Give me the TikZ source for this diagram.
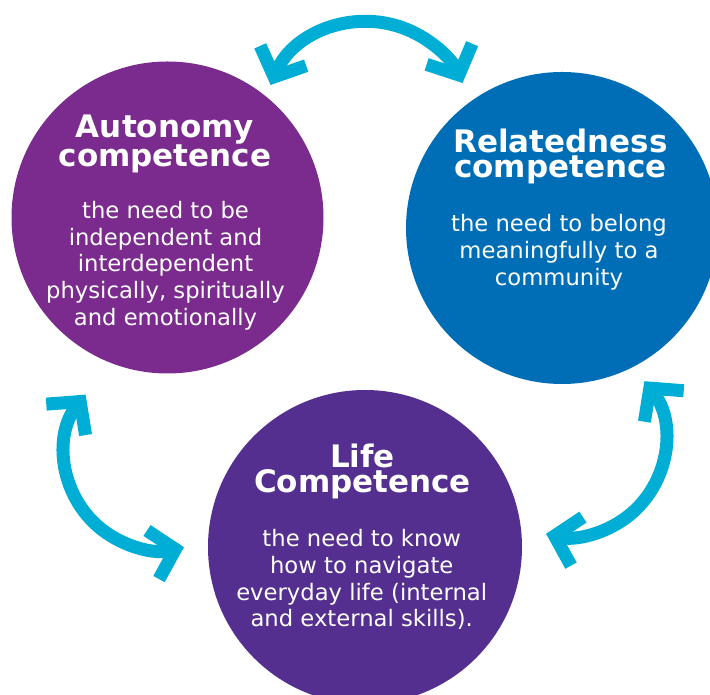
\documentclass[tikz,border=0pt]{standalone}
\usepackage{fontspec}
\setmainfont{DejaVu Sans}
\usetikzlibrary{arrows.meta}
\definecolor{autcol}{HTML}{7B2A8D}
\definecolor{relcol}{HTML}{006EB6}
\definecolor{lifecol}{HTML}{542F8F}
\definecolor{cyanc}{HTML}{00AED5}
\begin{document}
\begin{tikzpicture}[x=1pt,y=1pt,
  bubble/.style={circle, inner sep=0pt, minimum size=#1},
  ttl/.style={text=white, align=center, inner sep=0pt, anchor=north, font=\bfseries\fontsize{31}{25}\selectfont},
  bdy/.style={text=white, align=center, inner sep=0pt, anchor=north, font=\fontsize{22.7}{26.7}\selectfont},
  cyc/.style={draw=cyanc, line width=13pt, {Straight Barb[length=23pt,width=50pt]}-{Straight Barb[length=23pt,width=50pt]}}
]
\useasboundingbox (0,0) rectangle (710,695);
\clip (0,0) rectangle (710,695);
% circles
\node[bubble=312pt, fill=autcol] (aut) at (167.5,477.5) {};
\node[bubble=312pt, fill=relcol] (rel) at (562,467) {};
\node[bubble=314pt, fill=lifecol] (life) at (365,148) {};
% texts
\node[ttl] (autT) at ([xshift=-2.5pt,yshift=103.2pt]aut.center) {Autonomy\\competence};
\node[bdy] (autB) at ([xshift=-2pt,yshift=16.5pt]aut.center) {the need to be\\independent and\\interdependent\\physically, spiritually\\and emotionally};
\node[ttl] (relT) at ([xshift=-1.5pt,yshift=99.6pt]rel.center) {Relatedness\\competence};
\node[bdy] (relB) at ([xshift=-3pt,yshift=13.6pt]rel.center) {the need to belong\\meaningfully to a\\community};
\node[ttl] (lifeT) at ([xshift=-2.5pt,yshift=103.6pt]life.center) {Life\\Competence};
\node[bdy] (lifeB) at ([xshift=-3.3pt,yshift=17.6pt]life.center) {the need to know\\how to navigate\\everyday life (internal\\and external skills).};
% arrows (circular arcs)
\coordinate (t1) at (270.6,610);
\coordinate (l1) at (85.6,300.4);
\coordinate (r1) at (644.4,313.8);
\draw[cyc] (t1) arc[start angle=156.7, end angle=24.5, radius=105];
\draw[cyc] (l1) arc[start angle=141.8, end angle=283.8, radius=96];
\draw[cyc] (r1) arc[start angle=38.2, end angle=-103.8, radius=96];
\end{tikzpicture}
\end{document}
